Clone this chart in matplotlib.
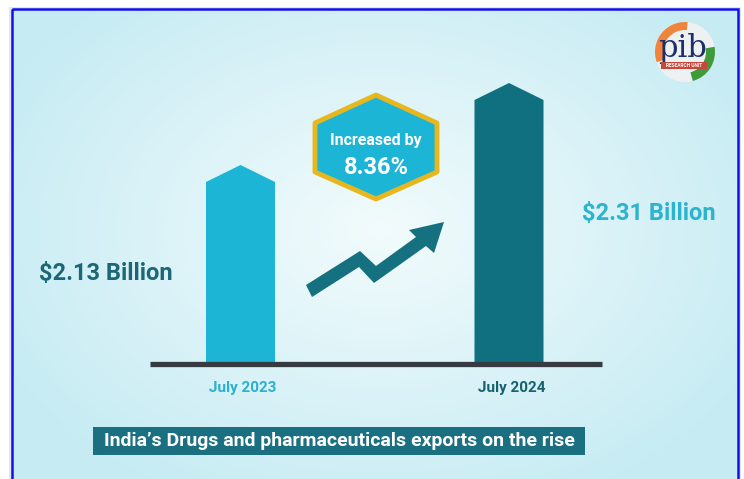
import numpy as np
import matplotlib
matplotlib.use("Agg")
import matplotlib.pyplot as plt
from matplotlib.patches import Polygon, Rectangle, Circle, Wedge

# --------------------------------------------------------------
# Data
# --------------------------------------------------------------

periods = ["July 2023", "July 2024"]
exports_bn = [2.13, 2.31]
value_labels = ["$2.13 Billion", "$2.31 Billion"]
growth_label = "8.36%"
title = "India\u2019s Drugs and pharmaceuticals exports on the rise"

# --------------------------------------------------------------
# Figure / styling
# --------------------------------------------------------------

W, H = 744, 479
plt.rcParams["font.family"] = ["Roboto", "DejaVu Sans"]

light = "#1db5d6"
dark = "#10707f"
gold = "#e8b71e"

fig = plt.figure(figsize=(W / 100, H / 100), dpi=100)
fig.patch.set_facecolor("white")

# decoration axes in pixel units (y pointing down)
deco = fig.add_axes([0, 0, 1, 1])
deco.set_xlim(0, W)
deco.set_ylim(H, 0)
deco.axis("off")

# soft shadow + radial background gradient inside the frame
deco.add_patch(Rectangle((9, 7), 732, H, fc="#d6d6d6", ec="none", alpha=0.6, zorder=0))
gx, gy = np.meshgrid(np.linspace(12, 738, 300), np.linspace(9, H, 200))
r = np.sqrt(((gx - 380) / 420) ** 2 + ((gy - 230) / 300) ** 2)
r = np.clip(r, 0, 1)
c_in = np.array([0.95, 0.985, 0.99])
c_out = np.array([0.78, 0.925, 0.955])
img = c_in[None, None, :] * (1 - r[..., None]) + c_out[None, None, :] * r[..., None]
deco.imshow(img, extent=(12, 738, H, 9), aspect="auto", zorder=0.5)
deco.add_patch(Rectangle((12, 9), 726, H, fill=False, ec="#1010f0", lw=1.8, zorder=1))

# --------------------------------------------------------------
# Bars on their own data axes
# --------------------------------------------------------------

ax = fig.add_axes([0, 0, 1, 1])
ax.patch.set_alpha(0)
ax.axis("off")

# pixel layout of the bar area
cx0, cx1 = 240.5, 509.0          # bar centres (px)
base_px = H - 364                # baseline from figure bottom
top0_px = H - 182                # shoulder of first bar
top1_px = H - 100                # shoulder of second bar
px_per_x = cx1 - cx0
px_per_y = (top1_px - top0_px) / (exports_bn[1] - exports_bn[0])
base = exports_bn[0] - (top0_px - base_px) / px_per_y
ax.set_xlim(-cx0 / px_per_x, (W - cx0) / px_per_x)
y_bottom = base - base_px / px_per_y
ax.set_ylim(y_bottom, y_bottom + H / px_per_y)

bar_w = 69 / px_per_x
peak = 17 / px_per_y
colors = [light, dark]
for i, v in enumerate(exports_bn):
    xs = [i - bar_w / 2, i - bar_w / 2, i, i + bar_w / 2, i + bar_w / 2]
    ys = [base, v, v + peak, v, base]
    ax.fill(xs, ys, color=colors[i], lw=0, zorder=3)

ax.plot([(150 - cx0) / px_per_x, (602 - cx0) / px_per_x], [base, base],
        color="#353b40", lw=3.8, solid_capstyle="butt", zorder=4)

label_cols = ["#2bb0cf", "#17626f"]
for i, p in enumerate(periods):
    ax.text(i + 0.01, base - 24 / px_per_y, p, ha="center", va="center",
            fontsize=11, fontweight="bold", color=label_cols[i])

ax.text(-0.5, exports_bn[0] - 0.2, value_labels[0], ha="center", va="center",
        fontsize=17, fontweight="bold", color="#1c6777")
ax.text(1.52, exports_bn[1] - 0.25, value_labels[1], ha="center", va="center",
        fontsize=17, fontweight="bold", color="#2bb3cf")

# --------------------------------------------------------------
# Growth badge, arrow, title banner, logo
# --------------------------------------------------------------

hexagon = [(376, 95), (437, 123), (437, 172), (376, 199), (315, 172), (315, 123)]
deco.add_patch(Polygon(hexagon, closed=True, fc=light, ec=gold, lw=3.5,
                       joinstyle="round", zorder=2))
deco.text(376, 140, "Increased by", ha="center", va="center", fontsize=11.5,
          fontweight="bold", color="white", zorder=3)
deco.text(376, 167, growth_label, ha="center", va="center", fontsize=17,
          fontweight="bold", color="white", zorder=3)

arrow = [(306, 285), (360, 251), (376, 266), (416, 237), (409, 230), (444, 222),
         (434, 253), (426, 246), (374, 283), (359, 267), (312, 297)]
deco.add_patch(Polygon(arrow, closed=True, fc="#15707f", ec="none", zorder=2))

deco.add_patch(Rectangle((93, 427), 492, 28, fc="#1a6f80", ec="none", zorder=2))
deco.text(339, 441.5, title, ha="center", va="center", fontsize=14,
          fontweight="bold", color="white", zorder=3)

# pib logo (rough); y axis is flipped so angles are mirrored
lx, ly, lr = 685, 52, 30
deco.add_patch(Circle((lx, ly), lr, fc="#eef1f1", ec="none", zorder=2))
deco.add_patch(Wedge((lx, ly), lr, 160, 275, width=8, fc="#f0843a", ec="none", zorder=3))
deco.add_patch(Wedge((lx, ly), lr, 350, 75, width=9, fc="#3f9a3a", ec="none", zorder=3))
deco.text(lx - 2, ly - 4, "pib", ha="center", va="center", fontsize=22,
          color="#1d2e6b", family="DejaVu Serif", zorder=4)
deco.add_patch(Rectangle((lx - 24, ly + 10), 46, 7, fc="#c8463a", ec="none", zorder=4))
deco.text(lx - 1, ly + 13.5, "RESEARCH UNIT", ha="center", va="center", fontsize=3.5,
          color="white", fontweight="bold", zorder=5)

fig.savefig("out.png", dpi=100)
